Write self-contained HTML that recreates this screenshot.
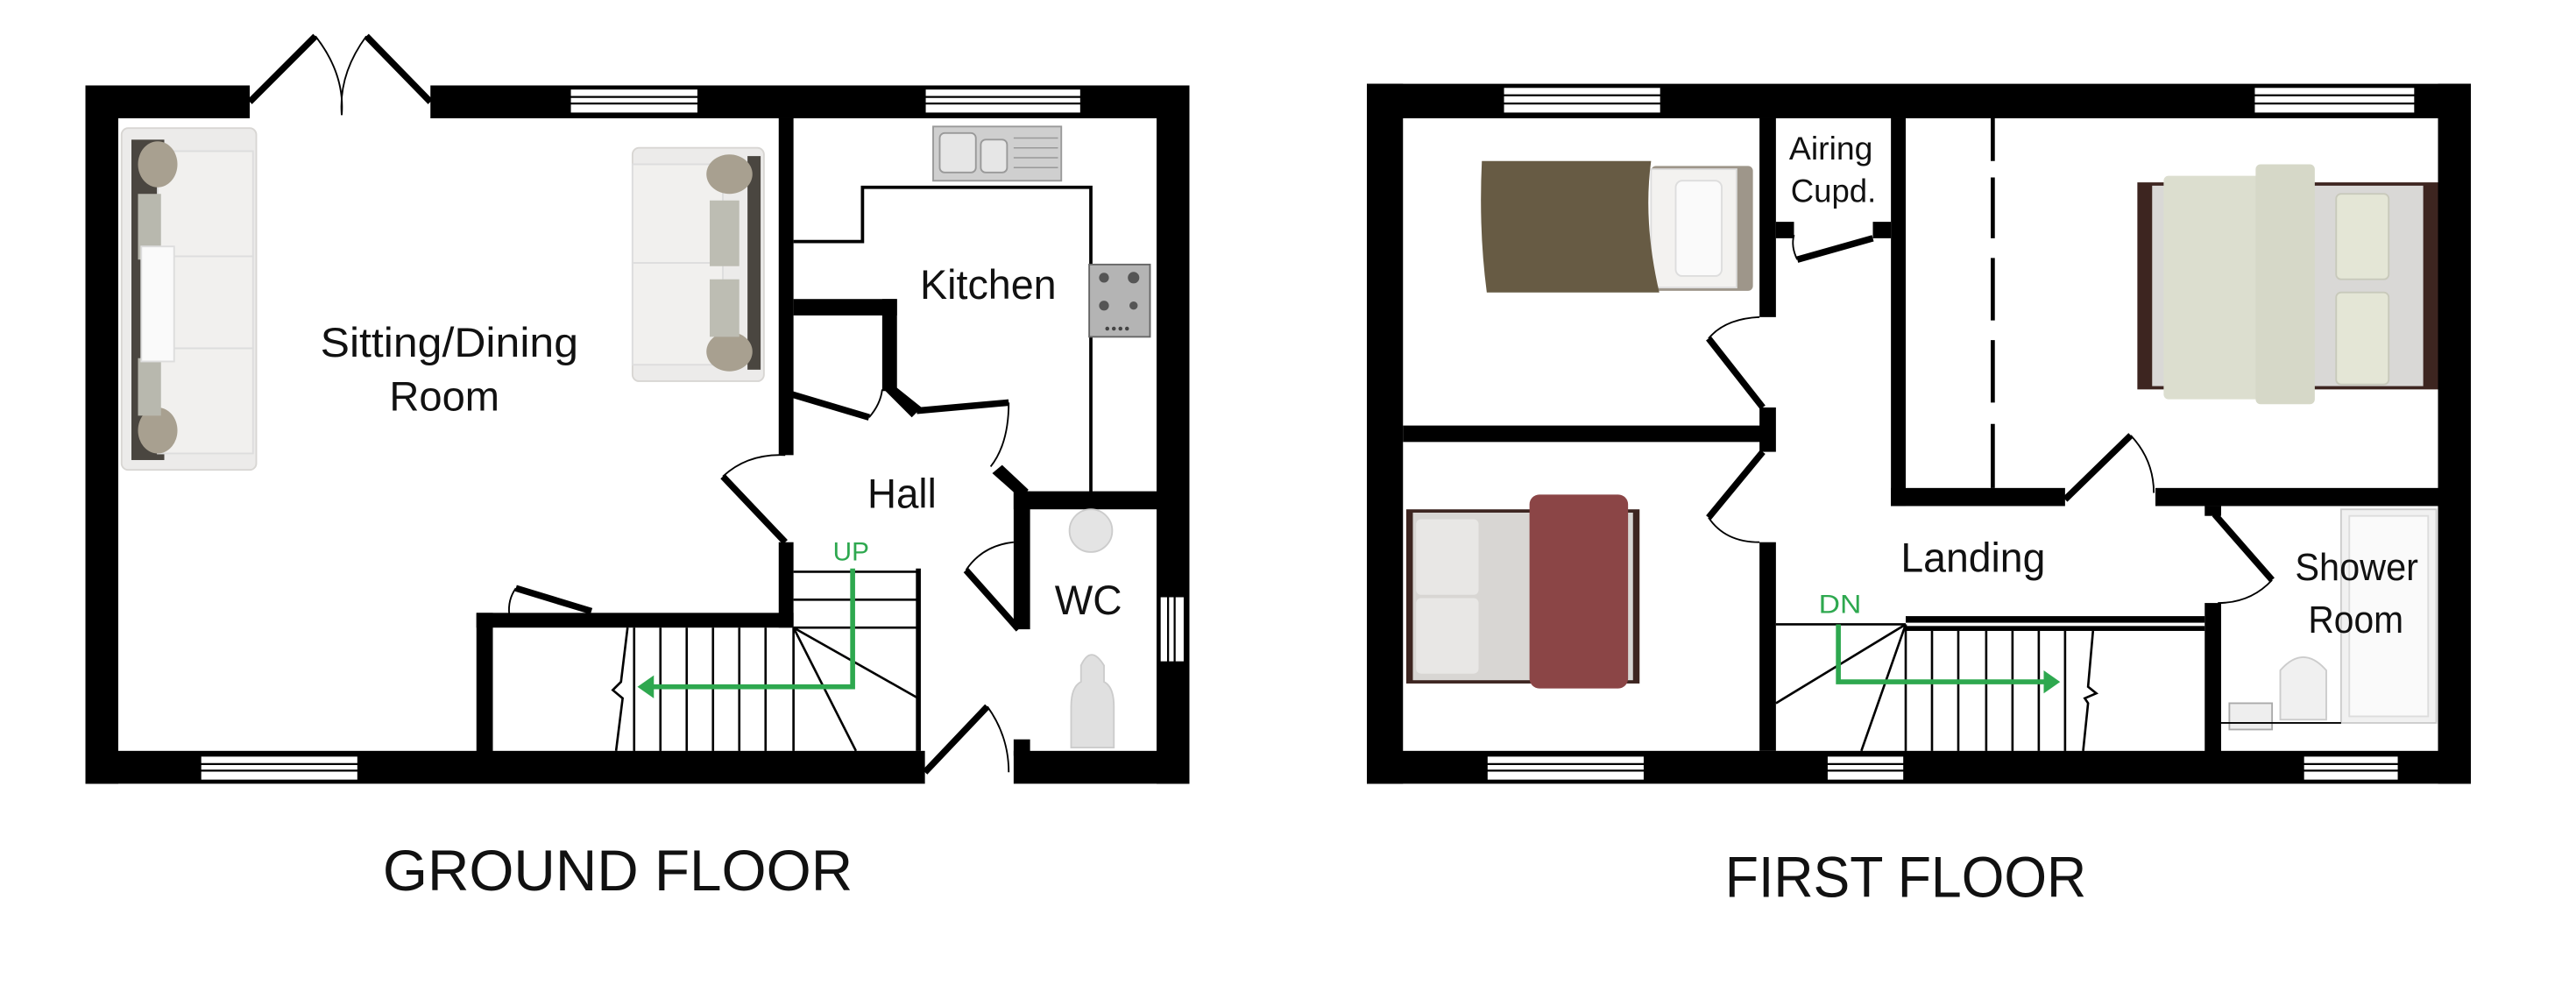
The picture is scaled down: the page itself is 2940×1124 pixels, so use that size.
<!DOCTYPE html>
<html><head><meta charset="utf-8"><style>
html,body{margin:0;padding:0;background:#fff;width:2940px;height:1124px;overflow:hidden}
svg{display:block}
text{font-family:"Liberation Sans",sans-serif;fill:#111}
</style></head><body>
<svg width="2940" height="1124" viewBox="0 0 1568 599.5" preserveAspectRatio="none" xmlns="http://www.w3.org/2000/svg">
<rect width="1568" height="600" fill="#fff"/>

<!-- ================= GROUND FLOOR ================= -->
<g fill="#000">
  <rect x="52" y="52" width="100" height="20"/>
  <rect x="262" y="52" width="462" height="20"/>
  <rect x="52" y="52" width="20" height="425"/>
  <rect x="704" y="52" width="20" height="425"/>
  <rect x="52" y="457" width="511" height="20"/>
  <rect x="617" y="457" width="107" height="20"/>
  <rect x="474" y="72" width="9" height="205"/>
  <rect x="474" y="330" width="9" height="52"/>
  <rect x="290" y="373" width="193" height="9"/>
  <rect x="290" y="373" width="10" height="86"/>
  <rect x="483" y="182" width="63" height="10"/>
  <rect x="537" y="182" width="9" height="56"/>
  <polygon points="537,236 546,236 561,248 555,254"/>
  <polygon points="604,288 610,283 626,298 622,304"/>
  <rect x="617" y="299" width="87" height="11"/>
  <rect x="617" y="299" width="10" height="84"/>
  <rect x="617" y="450" width="10" height="10"/>
</g>
<g fill="#fff" stroke="#000" stroke-width="1">
  <rect x="347" y="54" width="78" height="15"/>
  <rect x="563" y="54" width="95" height="15"/>
  <rect x="122" y="460" width="96" height="15"/>
  <rect x="706" y="363" width="15" height="40"/>
</g>
<g stroke="#000" stroke-width="1.2">
  <line x1="347" y1="59" x2="425" y2="59"/><line x1="347" y1="63" x2="425" y2="63"/>
  <line x1="563" y1="59" x2="658" y2="59"/><line x1="563" y1="63" x2="658" y2="63"/>
  <line x1="122" y1="465" x2="218" y2="465"/><line x1="122" y1="469" x2="218" y2="469"/>
  <line x1="711" y1="363" x2="711" y2="403"/><line x1="715" y1="363" x2="715" y2="403"/>
</g>
<g stroke="#000" fill="none">
  <line x1="152" y1="62" x2="192" y2="22" stroke-width="4"/>
  <line x1="262" y1="62" x2="223" y2="22" stroke-width="4"/>
  <path d="M192,22 Q210,45 208,70" stroke-width="1"/>
  <path d="M223,22 Q206,45 208,70" stroke-width="1"/>
  <line x1="478" y1="330" x2="440" y2="290" stroke-width="4"/>
  <path d="M440,290 Q455,276 478,277" stroke-width="1"/>
  <line x1="482" y1="240" x2="529" y2="254" stroke-width="4"/>
  <path d="M529,254 Q536,246 537,237" stroke-width="1"/>
  <line x1="558" y1="250" x2="614" y2="245" stroke-width="4"/>
  <path d="M614,245 Q614,270 603,284" stroke-width="1"/>
  <line x1="314" y1="358" x2="360" y2="372" stroke-width="4"/>
  <path d="M314,358 Q309,365 310,374" stroke-width="1"/>
  <line x1="588" y1="347" x2="620" y2="383" stroke-width="4"/>
  <path d="M588,347 Q598,332 617,330" stroke-width="1"/>
  <line x1="563" y1="470" x2="601" y2="430" stroke-width="4"/>
  <path d="M601,430 Q614,448 614,470" stroke-width="1"/>
  <polyline points="483,147 525,147 525,114 664,114 664,300" stroke-width="2"/>
</g>
<g stroke="#000" stroke-width="1.4" fill="none">
  <line x1="386" y1="382" x2="386" y2="457"/>
  <line x1="402" y1="382" x2="402" y2="457"/>
  <line x1="418" y1="382" x2="418" y2="457"/>
  <line x1="434" y1="382" x2="434" y2="457"/>
  <line x1="450" y1="382" x2="450" y2="457"/>
  <line x1="466" y1="382" x2="466" y2="457"/>
  <line x1="483" y1="382" x2="483" y2="457"/>
  <line x1="483" y1="348" x2="559" y2="348"/>
  <line x1="483" y1="365" x2="559" y2="365"/>
  <line x1="483" y1="382" x2="559" y2="382"/>
  <line x1="559" y1="346" x2="559" y2="457" stroke-width="3"/>
  <line x1="483" y1="382" x2="559" y2="425"/>
  <line x1="483" y1="382" x2="521" y2="457"/>
  <polyline points="382,382 378,415 373,420 379,425 375,457"/>
</g>
<polyline points="519,346 519,418 396,418" stroke="#2ea84f" stroke-width="3" fill="none"/>
<polygon points="388,418 398,411 398,425" fill="#2ea84f"/>
<text x="518" y="341" font-size="16" style="fill:#2ea84f" text-anchor="middle" textLength="22" lengthAdjust="spacingAndGlyphs">UP</text>

<g>
  <rect x="74" y="78" width="82" height="208" rx="4" fill="#ecebea" stroke="#d8d6d3"/>
  <rect x="80" y="85" width="20" height="195" fill="#4a4640"/>
  <rect x="96" y="92" width="58" height="64" fill="#f1f0ee" stroke="#ddd"/>
  <rect x="96" y="156" width="58" height="56" fill="#f1f0ee" stroke="#ddd"/>
  <rect x="96" y="212" width="58" height="64" fill="#f1f0ee" stroke="#ddd"/>
  <ellipse cx="96" cy="100" rx="12" ry="14" fill="#a8a090"/>
  <ellipse cx="96" cy="262" rx="12" ry="14" fill="#a8a090"/>
  <rect x="84" y="118" width="14" height="40" fill="#b8b8ae"/>
  <rect x="84" y="218" width="14" height="35" fill="#b8b8ae"/>
  <rect x="86" y="150" width="20" height="70" fill="#fafafa" stroke="#ddd"/>
  <rect x="385" y="90" width="80" height="142" rx="4" fill="#ecebea" stroke="#d8d6d3"/>
  <rect x="385" y="100" width="55" height="60" fill="#f1f0ee" stroke="#ddd"/>
  <rect x="385" y="160" width="55" height="62" fill="#f1f0ee" stroke="#ddd"/>
  <rect x="455" y="95" width="8" height="130" fill="#4a4640"/>
  <ellipse cx="444" cy="106" rx="14" ry="12" fill="#a8a090"/>
  <ellipse cx="444" cy="214" rx="14" ry="12" fill="#a8a090"/>
  <rect x="432" y="122" width="18" height="40" fill="#bdbdb3"/>
  <rect x="432" y="170" width="18" height="35" fill="#bdbdb3"/>
  <rect x="568" y="77" width="78" height="33" fill="#cfcfcf" stroke="#999"/>
  <rect x="572" y="81" width="22" height="24" rx="3" fill="#e6e6e6" stroke="#999"/>
  <rect x="597" y="85" width="16" height="20" rx="3" fill="#e6e6e6" stroke="#999"/>
  <g stroke="#999" stroke-width="0.8"><line x1="617" y1="84" x2="644" y2="84"/><line x1="617" y1="90" x2="644" y2="90"/><line x1="617" y1="96" x2="644" y2="96"/><line x1="617" y1="102" x2="644" y2="102"/></g>
  <rect x="663" y="161" width="37" height="44" fill="#b4b4b4" stroke="#666"/>
  <g fill="#555"><circle cx="672" cy="169" r="3"/><circle cx="690" cy="169" r="3.5"/><circle cx="672" cy="186" r="3"/><circle cx="690" cy="186" r="2.5"/></g>
  <g fill="#444"><circle cx="674" cy="200" r="1.2"/><circle cx="678" cy="200" r="1.2"/><circle cx="682" cy="200" r="1.2"/><circle cx="686" cy="200" r="1.2"/></g>
  <ellipse cx="664" cy="323" rx="13" ry="13" fill="#e4e4e4" stroke="#ccc"/>
  <path d="M652,455 L652,430 Q652,418 658,415 L658,405 Q664,392 672,405 L672,415 Q678,418 678,430 L678,455 Z" fill="#e0e0e0" stroke="#ccc"/>
</g>

<text x="195" y="217" font-size="25" textLength="157" lengthAdjust="spacingAndGlyphs">Sitting/Dining</text>
<text x="237" y="250" font-size="25" textLength="67" lengthAdjust="spacingAndGlyphs">Room</text>
<text x="560" y="182" font-size="25" textLength="83" lengthAdjust="spacingAndGlyphs">Kitchen</text>
<text x="528" y="309" font-size="25" textLength="42" lengthAdjust="spacingAndGlyphs">Hall</text>
<text x="642" y="374" font-size="25" textLength="41" lengthAdjust="spacingAndGlyphs">WC</text>
<text x="233" y="542" font-size="35" textLength="286" lengthAdjust="spacingAndGlyphs">GROUND FLOOR</text>

<!-- ================= FIRST FLOOR ================= -->
<g fill="#000">
  <rect x="832" y="51" width="672" height="21"/>
  <rect x="832" y="51" width="22" height="426"/>
  <rect x="1484" y="51" width="20" height="426"/>
  <rect x="832" y="457" width="672" height="20"/>
  <rect x="854" y="259" width="219" height="10"/>
  <rect x="1071" y="72" width="10" height="121"/>
  <rect x="1071" y="248" width="10" height="27"/>
  <rect x="1071" y="330" width="10" height="127"/>
  <rect x="1081" y="135" width="11" height="10"/>
  <rect x="1140" y="135" width="11" height="10"/>
  <rect x="1151" y="72" width="9" height="236"/>
  <rect x="1151" y="297" width="106" height="11"/>
  <rect x="1312" y="297" width="175" height="11"/>
  <rect x="1342" y="308" width="10" height="6"/>
  <rect x="1342" y="367" width="10" height="92"/>
  <rect x="1160" y="375" width="182" height="4"/>
  <rect x="1160" y="381" width="182" height="3"/>
</g>
<g stroke="#000" stroke-width="2.5">
  <line x1="1213" y1="72" x2="1213" y2="98"/>
  <line x1="1213" y1="108" x2="1213" y2="145"/>
  <line x1="1213" y1="157" x2="1213" y2="195"/>
  <line x1="1213" y1="207" x2="1213" y2="245"/>
  <line x1="1213" y1="258" x2="1213" y2="297"/>
</g>
<g fill="#fff" stroke="#000" stroke-width="1">
  <rect x="915" y="53" width="96" height="16"/>
  <rect x="1372" y="53" width="98" height="16"/>
  <rect x="905" y="460" width="96" height="15"/>
  <rect x="1112" y="460" width="47" height="15"/>
  <rect x="1402" y="460" width="58" height="15"/>
</g>
<g stroke="#000" stroke-width="1.2">
  <line x1="915" y1="58" x2="1011" y2="58"/><line x1="915" y1="63" x2="1011" y2="63"/>
  <line x1="1372" y1="58" x2="1470" y2="58"/><line x1="1372" y1="63" x2="1470" y2="63"/>
  <line x1="905" y1="465" x2="1001" y2="465"/><line x1="905" y1="469" x2="1001" y2="469"/>
  <line x1="1112" y1="465" x2="1159" y2="465"/><line x1="1112" y1="469" x2="1159" y2="469"/>
  <line x1="1402" y1="465" x2="1460" y2="465"/><line x1="1402" y1="469" x2="1460" y2="469"/>
</g>
<g stroke="#000" fill="none">
  <line x1="1094" y1="158" x2="1140" y2="145" stroke-width="4"/>
  <path d="M1094,158 Q1090,150 1092,143" stroke-width="1"/>
  <line x1="1073" y1="248" x2="1040" y2="206" stroke-width="4"/>
  <path d="M1040,206 Q1050,194 1071,193" stroke-width="1"/>
  <line x1="1073" y1="275" x2="1040" y2="315" stroke-width="4"/>
  <path d="M1040,315 Q1050,330 1071,330" stroke-width="1"/>
  <line x1="1257" y1="304" x2="1297" y2="265" stroke-width="4"/>
  <path d="M1297,265 Q1311,280 1311,300" stroke-width="1"/>
  <line x1="1348" y1="313" x2="1383" y2="353" stroke-width="4"/>
  <path d="M1383,353 Q1370,367 1350,367" stroke-width="1"/>
</g>
<g stroke="#000" stroke-width="1.4" fill="none">
  <line x1="1081" y1="380" x2="1160" y2="380"/>
  <line x1="1176" y1="384" x2="1176" y2="457"/>
  <line x1="1192" y1="384" x2="1192" y2="457"/>
  <line x1="1209" y1="384" x2="1209" y2="457"/>
  <line x1="1225" y1="384" x2="1225" y2="457"/>
  <line x1="1241" y1="384" x2="1241" y2="457"/>
  <line x1="1257" y1="384" x2="1257" y2="457"/>
  <line x1="1160" y1="380" x2="1160" y2="457"/>
  <line x1="1160" y1="380" x2="1081" y2="428"/>
  <line x1="1160" y1="380" x2="1133" y2="457"/>
  <polyline points="1274,384 1271,418 1276,422 1269,425 1271,428 1268,457"/>
</g>
<polyline points="1119,380 1119,415 1246,415" stroke="#2ea84f" stroke-width="3" fill="none"/>
<polygon points="1254,415 1244,408 1244,422" fill="#2ea84f"/>
<text x="1120" y="373" font-size="16" style="fill:#2ea84f" text-anchor="middle" textLength="26" lengthAdjust="spacingAndGlyphs">DN</text>

<g>
  <rect x="1005" y="101" width="62" height="76" rx="3" fill="#9e968a"/>
  <rect x="1005" y="103" width="52" height="72" fill="#f3f2f0" stroke="#ddd"/>
  <rect x="1020" y="110" width="28" height="58" rx="4" fill="#fafafa" stroke="#ddd"/>
  <path d="M902,98 L1005,98 Q1000,135 1010,178 L905,178 Q900,140 902,98Z" fill="#675b44"/>
  <rect x="1301" y="111" width="183" height="126" fill="#3d2520"/>
  <rect x="1310" y="113" width="165" height="122" fill="#d9d8d6"/>
  <rect x="1317" y="107" width="62" height="136" rx="3" fill="#dcdecf"/>
  <rect x="1373" y="100" width="36" height="146" rx="3" fill="#d6d8c8"/>
  <rect x="1422" y="118" width="32" height="52" rx="3" fill="#e4e6d6" stroke="#c8c9bb"/>
  <rect x="1422" y="178" width="32" height="56" rx="3" fill="#e4e6d6" stroke="#c8c9bb"/>
  <rect x="856" y="310" width="142" height="106" fill="#3d2520"/>
  <rect x="860" y="312" width="134" height="102" fill="#d8d6d3"/>
  <rect x="862" y="316" width="38" height="46" rx="3" fill="#e8e7e5"/>
  <rect x="862" y="364" width="38" height="46" rx="3" fill="#e8e7e5"/>
  <rect x="931" y="301" width="60" height="118" rx="6" fill="#8b4546"/>
  <rect x="1425" y="310" width="58" height="130" fill="#f1f1f1" stroke="#ccc"/>
  <rect x="1430" y="314" width="48" height="122" fill="#fafafa" stroke="#ddd"/>
  <path d="M1388,438 L1388,408 Q1402,392 1416,408 L1416,438 Z" fill="#f0f0f0" stroke="#ccc"/>
  <rect x="1357" y="428" width="26" height="16" fill="#eee" stroke="#aaa"/>
  <line x1="1352" y1="440" x2="1425" y2="440" stroke="#000" stroke-width="1"/>
</g>

<text x="1089" y="97" font-size="20" textLength="51" lengthAdjust="spacingAndGlyphs">Airing</text>
<text x="1090" y="123" font-size="20" textLength="52" lengthAdjust="spacingAndGlyphs">Cupd.</text>
<text x="1157" y="348" font-size="25" textLength="88" lengthAdjust="spacingAndGlyphs">Landing</text>
<text x="1397" y="353" font-size="23" textLength="75" lengthAdjust="spacingAndGlyphs">Shower</text>
<text x="1405" y="385" font-size="23" textLength="58" lengthAdjust="spacingAndGlyphs">Room</text>
<text x="1050" y="546" font-size="35" textLength="220" lengthAdjust="spacingAndGlyphs">FIRST FLOOR</text>
</svg>
</body></html>
